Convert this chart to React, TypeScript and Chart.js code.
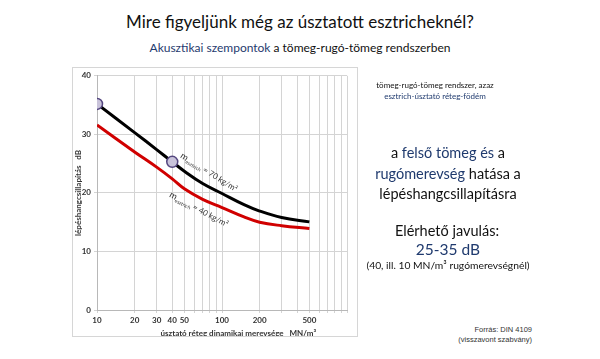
import React, { useEffect, useRef } from "react";
import { Chart, registerables } from "chart.js";

Chart.register(...registerables);

// ---- data ----
const X_VALUES = [10, 20, 30, 40, 50, 70, 100, 150, 200, 300, 500];
const SERIES_70 = [35.2, 30.3, 27.4, 25.3, 23.7, 21.6, 19.9, 18.0, 16.9, 15.8, 15.05];
const SERIES_40 = [31.6, 27.0, 24.4, 22.4, 20.7, 18.9, 17.5, 15.9, 15.0, 14.4, 13.9];
const MARKED_X = [10, 40];
const X_GRID_VALUES = [10, 20, 30, 40, 50, 60, 70, 80, 90, 100, 200, 300, 400, 500, 600, 700, 800, 900, 1000];
const X_TICK_LABELS = [10, 20, 30, 40, 50, 100, 200, 500];
const Y_TICKS = [0, 10, 20, 30, 40];
const X_TITLE = "úsztató réteg dinamikai merevsége   MN/m³";
const Y_TITLE = "lépéshangcsillapítás   dB";
const CURVE_LABELS = [
  { x: 46, y: 26.1, angle: 32, value: "= 70 kg/m²" },
  { x: 37.5, y: 19.4, angle: 28, value: "= 40 kg/m²" },
];

const BLUE = "#1f3a6e";
const FONT = "Lato, 'Open Sans', sans-serif";

const curveLabelPlugin = {
  id: "curveLabels",
  afterDatasetsDraw(chart: any) {
    const { ctx, scales } = chart;
    const xs = scales.x;
    const ys = scales.y;
    ctx.save();
    ctx.fillStyle = "#333333";
    ctx.textBaseline = "alphabetic";
    for (const it of CURVE_LABELS) {
      const px = xs.getPixelForValue(it.x);
      const py = ys.getPixelForValue(it.y);
      ctx.save();
      ctx.translate(px, py);
      ctx.rotate((it.angle * Math.PI) / 180);
      ctx.font = "9px Lato";
      ctx.fillText("m", 0, 0);
      let w = ctx.measureText("m").width;
      ctx.font = "5px Lato";
      ctx.fillText("esztrich", w, 2);
      w += ctx.measureText("esztrich").width + 2;
      ctx.font = "8px Lato";
      ctx.fillText(it.value, w, 0);
      ctx.restore();
    }
    ctx.restore();
  },
  afterDraw(chart: any) {
    const { ctx, chartArea } = chart;
    ctx.save();
    ctx.fillStyle = "#333333";
    ctx.font = "bold 8px Lato";
    ctx.textAlign = "center";
    ctx.textBaseline = "middle";
    ctx.fillText(X_TITLE, chartArea.left + chartArea.width * 0.565, chartArea.bottom + 23);
    ctx.restore();
  },
};

function ChartBox() {
  const ref = useRef<HTMLCanvasElement | null>(null);
  useEffect(() => {
    if (!ref.current) return;
    const pointR = (v: number) => (MARKED_X.includes(v) ? 5.5 : 0);
    const chart = new Chart(ref.current, {
      type: "line",
      data: {
        datasets: [
          {
            label: "70",
            data: X_VALUES.map((x, i) => ({ x, y: SERIES_70[i] })),
            borderColor: "#000000",
            borderWidth: 3,
            tension: 0.4,
            pointRadius: X_VALUES.map(pointR),
            pointBackgroundColor: "#c9c3da",
            pointBorderColor: "#54467f",
            pointBorderWidth: 1.5,
            order: 0,
          },
          {
            label: "40",
            data: X_VALUES.map((x, i) => ({ x, y: SERIES_40[i] })),
            borderColor: "#d00000",
            borderWidth: 3,
            tension: 0.4,
            pointRadius: 0,
            order: 1,
          },
        ],
      },
      options: {
        animation: false,
        responsive: false,
        maintainAspectRatio: false,
        layout: { padding: { top: 7, right: 10, left: 0, bottom: 0 } },
        plugins: { legend: { display: false }, tooltip: { enabled: false } },
        scales: {
          x: {
            type: "logarithmic",
            min: 10,
            max: 1000,
            afterBuildTicks: (s: any) => {
              s.ticks = X_GRID_VALUES.map((v) => ({ value: v }));
            },
            afterFit: (s: any) => {
              s.height = 26;
            },
            grid: { color: "#d4d4d4", lineWidth: 1, tickLength: 3, drawTicks: true },
            border: { color: "#b8b8b8" },
            ticks: {
              autoSkip: false,
              maxRotation: 0,
              padding: 3,
              color: "#333333",
              font: { family: "Lato", size: 8, weight: "bold" },
              callback: (v: any) => (X_TICK_LABELS.includes(Number(v)) ? String(v) : ""),
            },
          },
          y: {
            min: 0,
            max: 40,
            afterBuildTicks: (s: any) => {
              s.ticks = Y_TICKS.map((v) => ({ value: v }));
            },
            afterFit: (s: any) => {
              s.width = 24;
            },
            grid: { color: "#d4d4d4", lineWidth: 1, tickLength: 3, drawTicks: true },
            border: { color: "#b8b8b8" },
            title: {
              display: true,
              text: Y_TITLE,
              color: "#333333",
              font: { family: "Lato", size: 8, weight: "bold" },
              padding: { top: 1, bottom: 0 },
            },
            ticks: {
              padding: 3,
              color: "#333333",
              font: { family: "Lato", size: 8, weight: "bold" },
            },
          },
        },
      },
      plugins: [curveLabelPlugin],
    } as any);
    return () => chart.destroy();
  }, []);
  return <canvas ref={ref} width={284} height={268} style={{ display: "block", width: 284, height: 268 }} />;
}

const abs = (left: number, top: number, width: number, extra: any = {}) => ({
  position: "absolute" as const,
  left,
  top,
  width,
  textAlign: "center" as const,
  whiteSpace: "nowrap" as const,
  ...extra,
});

export default function App() {
  return (
    <div
      style={{
        position: "fixed",
        left: 0,
        top: 0,
        width: 600,
        height: 359,
        background: "#ffffff",
        overflow: "hidden",
        fontFamily: FONT,
        color: "#111111",
      }}
    >
      <div style={abs(0, 10, 600, { fontSize: 17, lineHeight: "24px" })}>
        Mire figyeljünk még az úsztatott esztricheknél?
      </div>
      <div style={abs(0, 40, 600, { fontSize: 12, lineHeight: "16px" })}>
        <span style={{ color: BLUE }}>Akusztikai szempontok</span> a tömeg-rugó-tömeg rendszerben
      </div>

      <div
        style={{
          position: "absolute",
          left: 72,
          top: 67,
          width: 284,
          height: 268,
          border: "1px solid #d6d6d6",
        }}
      >
        <ChartBox />
      </div>

      <div style={abs(335, 80, 200, { fontSize: 8, lineHeight: "11px" })}>
        tömeg-rugó-tömeg rendszer, azaz
        <br />
        <span style={{ color: BLUE }}>esztrich-úsztató réteg-födém</span>
      </div>

      <div style={abs(348, 143, 200, { fontSize: 14.5, lineHeight: "20.5px" })}>
        a <span style={{ color: BLUE }}>felső tömeg és</span> a
        <br />
        <span style={{ color: BLUE }}>rugómerevség</span> hatása a
        <br />
        lépéshangcsillapításra
      </div>

      <div style={abs(347, 221, 200, { fontSize: 14.5, lineHeight: "20px" })}>Elérhető javulás:</div>
      <div style={abs(348, 239, 200, { fontSize: 15.5, lineHeight: "20px", color: BLUE })}>25-35 dB</div>
      <div style={abs(348, 258, 200, { fontSize: 10.3, lineHeight: "14px" })}>
        (40, ill. 10 MN/m³ rugómerevségnél)
      </div>

      <div
        style={{
          position: "absolute",
          left: 400,
          width: 132,
          top: 325,
          textAlign: "right",
          fontFamily: "'Liberation Sans', Arial, sans-serif",
          fontSize: 7.5,
          lineHeight: "10px",
          color: "#333333",
        }}
      >
        Forrás: DIN 4109
        <br />
        (visszavont szabvány)
      </div>
    </div>
  );
}
